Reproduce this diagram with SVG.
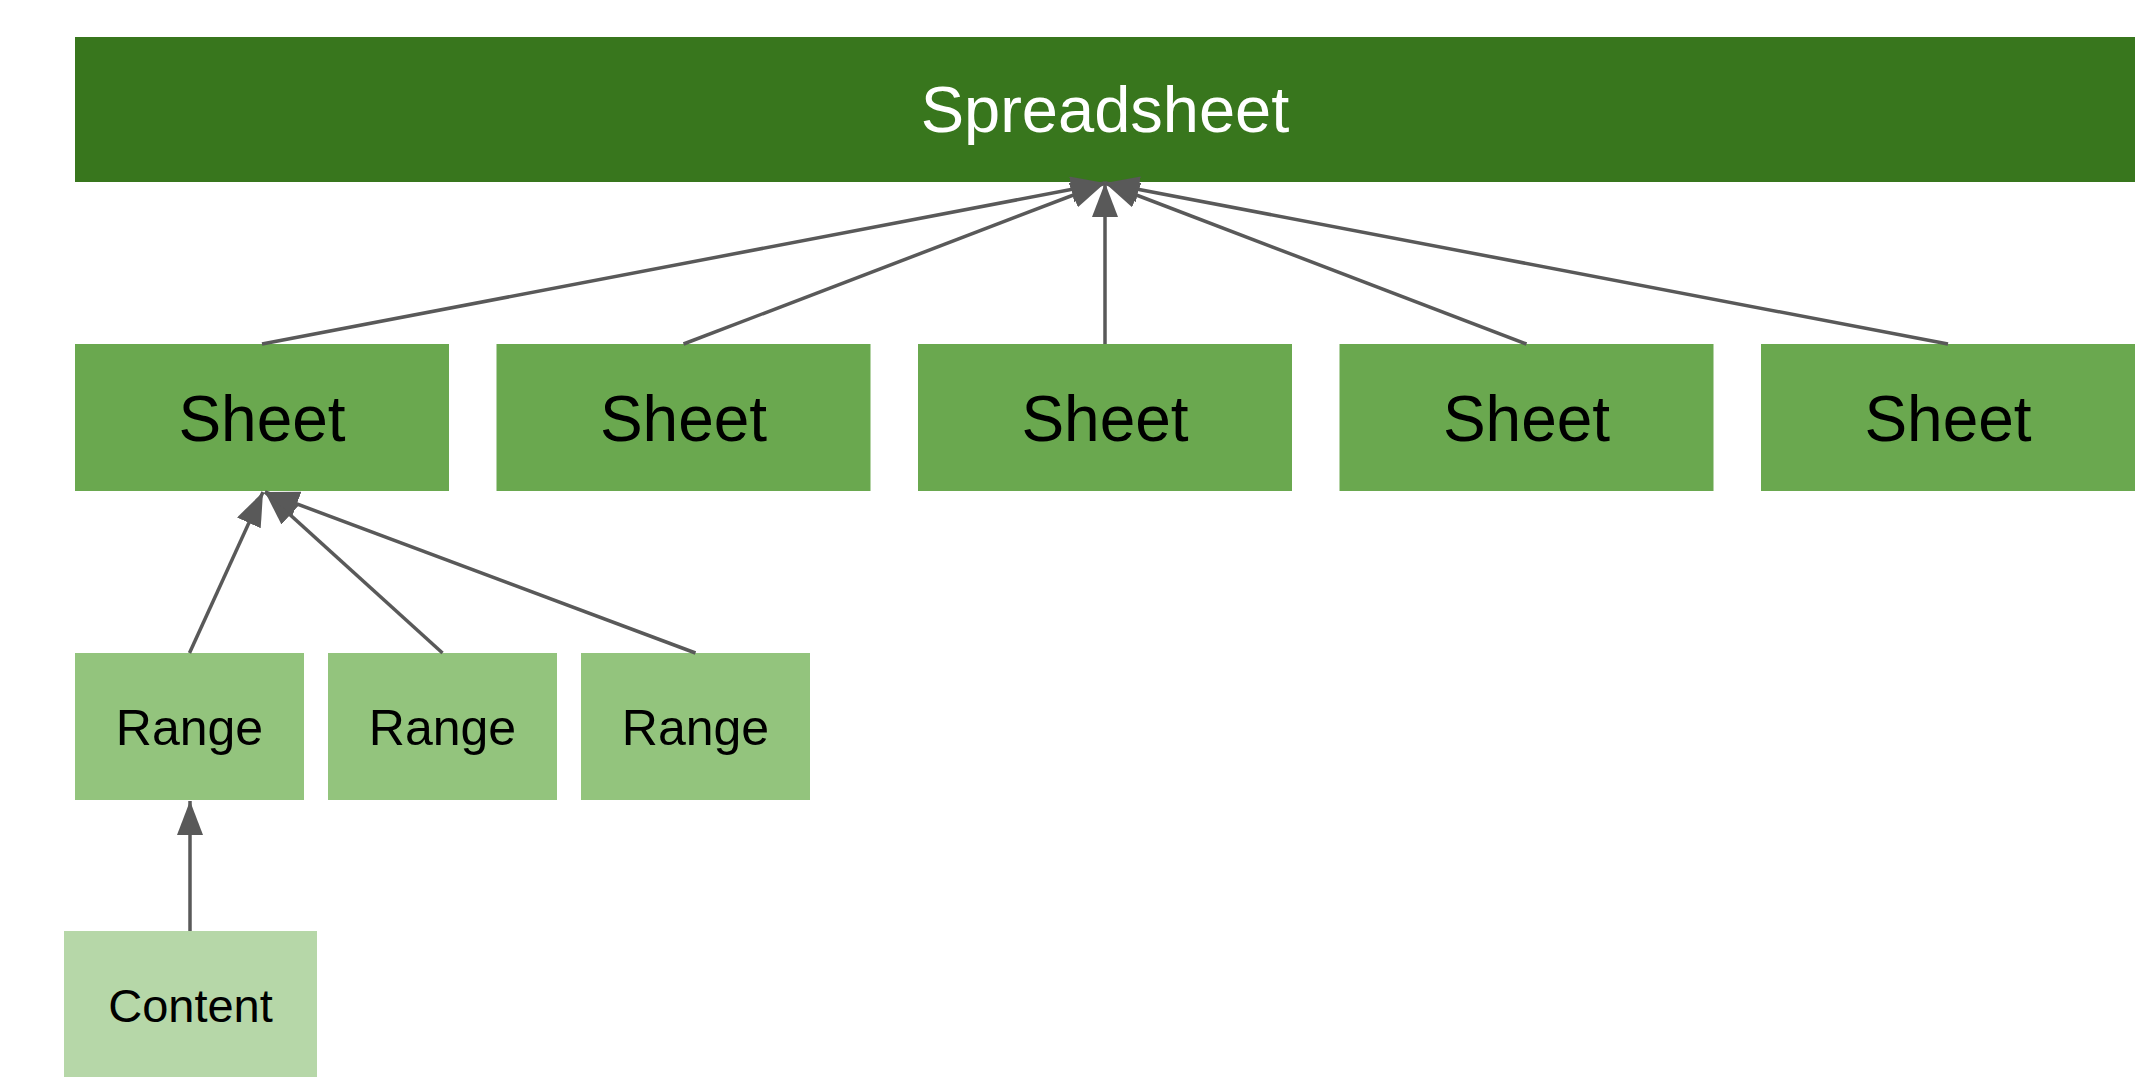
<svg xmlns="http://www.w3.org/2000/svg" width="2156" height="1092" viewBox="0 0 2156 1092">
  <style>
    .lbl { font-family: "Liberation Sans", Arial, sans-serif; text-anchor: middle; fill: #000000; }
    .top { fill: #38761d; }
    .sheet { fill: #6aa84f; }
    .range { fill: #93c47d; }
    .content { fill: #b6d7a8; }
    .conn { stroke: #595959; stroke-width: 3.5; fill: none; marker-end: url(#arrow); }
  </style>
  <defs>
    <marker id="arrow" markerUnits="userSpaceOnUse" markerWidth="35" markerHeight="27" refX="34" refY="13" orient="auto">
      <path d="M0,0 L34,13 L0,26 z" fill="#595959"/>
    </marker>
  </defs>
  <rect width="2156" height="1092" fill="#ffffff"/>

  <g id="spreadsheet">
    <rect class="top" x="75" y="37" width="2060" height="145"/>
    <text class="lbl" x="1105" y="132" font-size="65" style="fill:#ffffff">Spreadsheet</text>
  </g>

  <g id="sheet1">
    <rect class="sheet" x="75" y="344" width="374" height="147"/>
    <text class="lbl" x="262" y="441" font-size="64">Sheet</text>
  </g>
  <g id="sheet2">
    <rect class="sheet" x="496.5" y="344" width="374" height="147"/>
    <text class="lbl" x="683.5" y="441" font-size="64">Sheet</text>
  </g>
  <g id="sheet3">
    <rect class="sheet" x="918" y="344" width="374" height="147"/>
    <text class="lbl" x="1105" y="441" font-size="64">Sheet</text>
  </g>
  <g id="sheet4">
    <rect class="sheet" x="1339.5" y="344" width="374" height="147"/>
    <text class="lbl" x="1526.5" y="441" font-size="64">Sheet</text>
  </g>
  <g id="sheet5">
    <rect class="sheet" x="1761" y="344" width="374" height="147"/>
    <text class="lbl" x="1948" y="441" font-size="64">Sheet</text>
  </g>

  <g id="range1">
    <rect class="range" x="75" y="653" width="229" height="147"/>
    <text class="lbl" x="189.5" y="745" font-size="50">Range</text>
  </g>
  <g id="range2">
    <rect class="range" x="328" y="653" width="229" height="147"/>
    <text class="lbl" x="442.5" y="745" font-size="50">Range</text>
  </g>
  <g id="range3">
    <rect class="range" x="581" y="653" width="229" height="147"/>
    <text class="lbl" x="695.5" y="745" font-size="50">Range</text>
  </g>

  <g id="content">
    <rect class="content" x="64" y="931" width="253" height="146"/>
    <text class="lbl" x="190.5" y="1022" font-size="47">Content</text>
  </g>

  <g id="connectors">
    <line class="conn" x1="262" y1="344" x2="1105" y2="183"/>
    <line class="conn" x1="683.5" y1="344" x2="1105" y2="183"/>
    <line class="conn" x1="1105" y1="344" x2="1105" y2="183"/>
    <line class="conn" x1="1526.5" y1="344" x2="1105" y2="183"/>
    <line class="conn" x1="1948" y1="344" x2="1105" y2="183"/>
    <line class="conn" x1="189.5" y1="653" x2="263" y2="492"/>
    <line class="conn" x1="442.5" y1="653" x2="265" y2="492"/>
    <line class="conn" x1="695.5" y1="653" x2="265" y2="492"/>
    <line class="conn" x1="190" y1="931" x2="190" y2="801"/>
  </g>
</svg>
